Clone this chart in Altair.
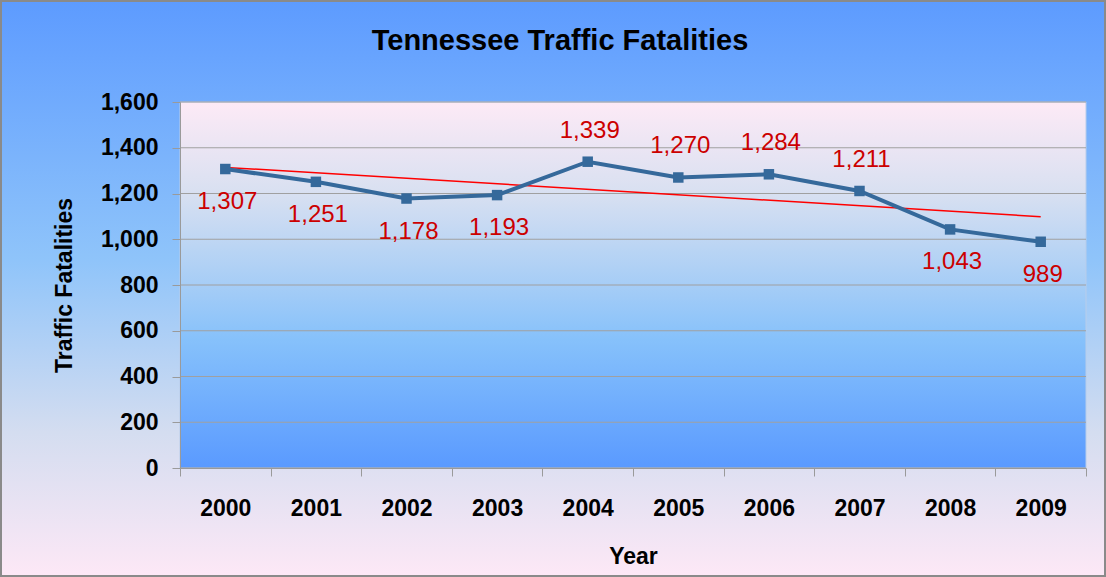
import altair as alt
import pandas as pd

# ---- data ----
years = [2000, 2001, 2002, 2003, 2004, 2005, 2006, 2007, 2008, 2009]
fatalities = [1307, 1251, 1178, 1193, 1339, 1270, 1284, 1211, 1043, 989]
label_above_years = [2004, 2005, 2006, 2007]
y_tick_values = [0, 200, 400, 600, 800, 1000, 1200, 1400, 1600]
title_text = "Tennessee Traffic Fatalities"

# ---- layout ----
TOTAL_W, TOTAL_H = 1106, 577
LEFT, TOP = 180, 102
W, H = 906, 366

df = pd.DataFrame({"Year": years, "Fatalities": fatalities})
grid_df = pd.DataFrame({"v": y_tick_values})
one = pd.DataFrame({"a": [0]})
title_df = pd.DataFrame({"t": [title_text]})

AX_FONT = "Liberation Sans"
GRAY = "#9a9a9a"

x_scale = alt.Scale(type="band", paddingInner=0, paddingOuter=0)
y_scale = alt.Scale(domain=[0, 1600], nice=False)

x_axis = alt.Axis(
    title="Year", labelAngle=0, tickBand="extent", tickSize=8, tickColor=GRAY,
    domainColor=GRAY, labelFont=AX_FONT, labelFontSize=23, labelFontWeight="bold",
    labelColor="black", labelPadding=21, titleFont=AX_FONT, titleFontSize=23,
    titleFontWeight="bold", titleColor="black", titlePadding=25, grid=False, zindex=1,
)
y_axis = alt.Axis(
    title="Traffic Fatalities", values=y_tick_values, format=",.0f", tickSize=8,
    tickColor=GRAY, domainColor=GRAY, labelFont=AX_FONT, labelFontSize=23,
    labelFontWeight="bold", labelColor="black", labelPadding=14,
    titleFont=AX_FONT, titleFontSize=23, titleFontWeight="bold", titleColor="black",
    titlePadding=24, grid=False, zindex=1,
)

def X(field="Year:O"):
    return alt.X(field, scale=x_scale, axis=x_axis)

def Y(field="Fatalities:Q"):
    return alt.Y(field, scale=y_scale, axis=y_axis)

outer_bg = alt.Chart(one).mark_rect(
    fill=alt.Gradient(
        gradient="linear", x1=0, y1=0, x2=0, y2=1,
        stops=[
            alt.GradientStop(offset=0, color="#5d9bff"),
            alt.GradientStop(offset=0.45, color="#8fc4fa"),
            alt.GradientStop(offset=0.75, color="#d4ddf0"),
            alt.GradientStop(offset=1, color="#fde8f6"),
        ],
    ),
    stroke="#8a8a8a", strokeWidth=2,
).encode(
    x=alt.value(-LEFT + 1), x2=alt.value(TOTAL_W - LEFT - 1),
    y=alt.value(-TOP + 1), y2=alt.value(TOTAL_H - TOP - 1),
)

plot_bg = alt.Chart(one).mark_rect(
    fill=alt.Gradient(
        gradient="linear", x1=0, y1=0, x2=0, y2=1,
        stops=[
            alt.GradientStop(offset=0, color="#fdeaf6"),
            alt.GradientStop(offset=0.25, color="#d8e0f1"),
            alt.GradientStop(offset=0.5, color="#a6cdf6"),
            alt.GradientStop(offset=0.65, color="#86c1fb"),
            alt.GradientStop(offset=1, color="#5a9aff"),
        ],
    ),
    stroke="#b8cdea", strokeWidth=1,
).encode(x=alt.value(0), x2=alt.value(W), y=alt.value(0), y2=alt.value(H))

title = alt.Chart(title_df).mark_text(
    font=AX_FONT, fontSize=29, fontWeight="bold", color="black", baseline="middle"
).encode(x=alt.value(TOTAL_W / 2 + 7 - LEFT), y=alt.value(41 - TOP), text="t:N")

grid = alt.Chart(grid_df).mark_rule(color="#a0a0a0", strokeWidth=1.2).encode(
    y=Y("v:Q")
)

trend = alt.Chart(df).transform_regression("Year", "Fatalities").mark_line(
    color="#ff0000", strokeWidth=1.5
).encode(x=X("Year:O"), y=Y())

line = alt.Chart(df).mark_line(
    color="#35699b", strokeWidth=4,
    point=alt.OverlayMarkDef(shape="square", size=110, filled=True, color="#35699b", opacity=1),
).encode(x=X(), y=Y())

above_expr = "indexof(" + str(label_above_years) + ", datum.Year) >= 0"

labels_above = alt.Chart(df).transform_filter(above_expr).mark_text(
    font=AX_FONT, fontSize=24, color="#cc0000", dy=-31, dx=2, baseline="middle"
).encode(x=X(), y=Y(), text=alt.Text("Fatalities:Q", format=",.0f"))

labels_below = alt.Chart(df).transform_filter("!(" + above_expr + ")").mark_text(
    font=AX_FONT, fontSize=24, color="#cc0000", dy=33, dx=2, baseline="middle"
).encode(x=X(), y=Y(), text=alt.Text("Fatalities:Q", format=",.0f"))

chart = alt.layer(
    outer_bg, plot_bg, title, grid, trend, line, labels_above, labels_below
).properties(
    width=W, height=H, padding=0,
).configure_view(stroke=None)

chart.save("out.html", embed_options={"renderer": "svg", "actions": False})
